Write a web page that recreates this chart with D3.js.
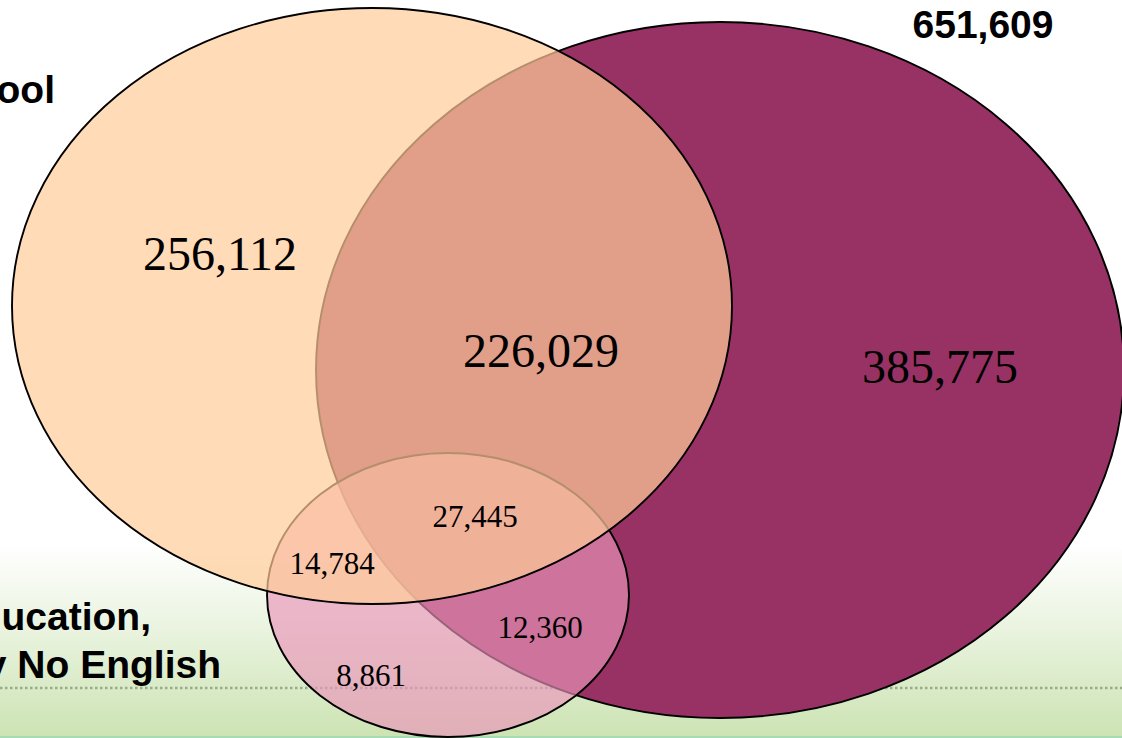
<!DOCTYPE html>
<html>
<head>
<meta charset="utf-8">
<script src="https://cdn.jsdelivr.net/npm/d3@7"></script>
<style>
  body { margin: 0; background: #ffffff; overflow: hidden; }
  .big { font-family: "Liberation Serif", "Times New Roman", serif; font-size: 48px; }
  .small { font-family: "Liberation Serif", "Times New Roman", serif; font-size: 31px; }
  .label { font-family: "Liberation Sans", Arial, sans-serif; font-size: 39px; font-weight: bold; }
</style>
</head>
<body>
<svg></svg>
<script>
//Data: region counts of the three-set Venn diagram
const regionIds = ["A", "AB", "B", "ABC", "AC", "BC", "C"];
const regionValues = [256112, 226029, 385775, 27445, 14784, 12360, 8861];

//Sets (A = left, B = right, C = bottom)
const setIds = ["B", "C", "A"]; //drawing order, bottom to top
const setColors = ["#993264", "#ea95b9", "#ffcc99"];
const setOpacity = [1, 0.66, 0.7];

//Outside labels (text runs past the left edge of the slide)
const sideLabels = ["High School", "Less than High School Education,", "Little or Nearly No English"];

const w = 1122;
const h = 738;

//Layout in slide units, mapped through scales
const ellipseLayout = {
  A: { cx: 372, cy: 306, rx: 360, ry: 298 },
  B: { cx: 720, cy: 370, rx: 404, ry: 348 },
  C: { cx: 448, cy: 595, rx: 181, ry: 142 }
};
const regionPos = {
  A:   { x: 220, y: 270, cls: "big" },
  AB:  { x: 541, y: 367, cls: "big" },
  B:   { x: 940, y: 383, cls: "big" },
  ABC: { x: 475, y: 527, cls: "small" },
  AC:  { x: 332, y: 574, cls: "small" },
  BC:  { x: 540, y: 638, cls: "small" },
  C:   { x: 371, y: 686, cls: "small" }
};
const sideLabelPos = [ { x: 55, y: 103 }, { x: 151, y: 630 }, { x: 221, y: 678 } ];

const xScale = d3.scaleLinear().domain([0, 1122]).range([0, w]);
const yScale = d3.scaleLinear().domain([0, 738]).range([0, h]);
const fmt = d3.format(",");

const chart = d3.select("svg")
                .attr("width", w)
                .attr("height", h);

//Background: white slide with green band at the bottom
const defs = chart.append("defs");
const grad = defs.append("linearGradient")
                 .attr("id", "band")
                 .attr("x1", 0).attr("y1", 0)
                 .attr("x2", 0).attr("y2", 1);
grad.append("stop").attr("offset", "0%").attr("stop-color", "#ffffff");
grad.append("stop").attr("offset", "45%").attr("stop-color", "#e9f3de");
grad.append("stop").attr("offset", "100%").attr("stop-color", "#cce3b3");

chart.append("rect")
     .attr("width", w).attr("height", h)
     .attr("fill", "#ffffff");

chart.append("rect")
     .attr("x", 0).attr("y", yScale(545))
     .attr("width", w).attr("height", h - yScale(545))
     .attr("fill", "url(#band)");

chart.append("line")
     .attr("x1", 0).attr("x2", w)
     .attr("y1", yScale(688)).attr("y2", yScale(688))
     .attr("stroke", "#9aab8c")
     .attr("stroke-width", 2.5)
     .attr("stroke-dasharray", "2.5,2.5");

chart.append("line")
     .attr("x1", 0).attr("x2", w)
     .attr("y1", yScale(737)).attr("y2", yScale(737))
     .attr("stroke", "#a6dbb4")
     .attr("stroke-width", 2);

//Ellipses
chart.append("g")
     .selectAll("ellipse")
     .data(setIds)
     .enter()
     .append("ellipse")
     .attr("cx", (d) => xScale(ellipseLayout[d].cx))
     .attr("cy", (d) => yScale(ellipseLayout[d].cy))
     .attr("rx", (d) => xScale(ellipseLayout[d].rx) - xScale(0))
     .attr("ry", (d) => yScale(ellipseLayout[d].ry) - yScale(0))
     .attr("fill", (d, i) => setColors[i])
     .attr("fill-opacity", (d, i) => setOpacity[i])
     .attr("stroke", "#000000")
     .attr("stroke-width", 1.9);

//Region counts
chart.append("g")
     .selectAll("text")
     .data(regionIds)
     .enter()
     .append("text")
     .attr("class", (d) => regionPos[d].cls)
     .attr("x", (d) => xScale(regionPos[d].x))
     .attr("y", (d) => yScale(regionPos[d].y))
     .attr("text-anchor", "middle")
     .attr("fill", "#000000")
     .text((d, i) => fmt(regionValues[i]));

//Total of set B (top right)
const totalB = d3.sum(regionIds.filter((d) => d.includes("B")), (d) => regionValues[regionIds.indexOf(d)]);
chart.append("text")
     .attr("class", "label")
     .attr("x", xScale(983))
     .attr("y", yScale(38))
     .attr("text-anchor", "middle")
     .text(fmt(totalB));

//Side labels
chart.append("g")
     .selectAll("text")
     .data(sideLabels)
     .enter()
     .append("text")
     .attr("class", "label")
     .attr("x", (d, i) => xScale(sideLabelPos[i].x))
     .attr("y", (d, i) => yScale(sideLabelPos[i].y))
     .attr("text-anchor", "end")
     .text((d) => d);
</script>
</body>
</html>
